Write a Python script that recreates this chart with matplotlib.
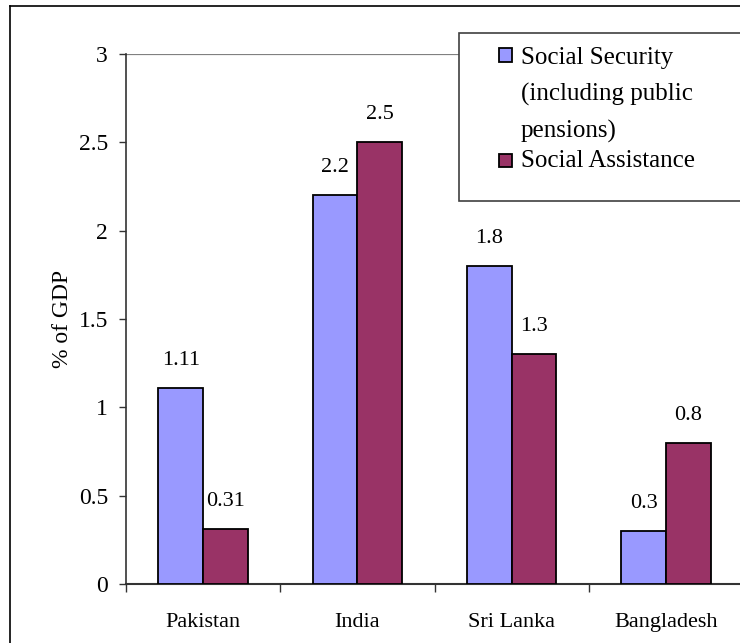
import matplotlib
matplotlib.use("Agg")
import matplotlib.pyplot as plt
import numpy as np
from matplotlib.patches import Rectangle
from matplotlib.lines import Line2D

countries = ["Pakistan", "India", "Sri Lanka", "Bangladesh"]
social_security = [1.11, 2.2, 1.8, 0.3]
social_assistance = [0.31, 2.5, 1.3, 0.8]
ss_labels = ["1.11", "2.2", "1.8", "0.3"]
sa_labels = ["0.31", "2.5", "1.3", "0.8"]
legend_labels = ["Social Security\n(including public\npensions)", "Social Assistance"]
yticks = [0, 0.5, 1, 1.5, 2, 2.5, 3]
ytick_labels = ["0", "0.5", "1", "1.5", "2", "2.5", "3"]

blue = "#9999FF"
plum = "#993366"

plt.rcParams["font.family"] = "serif"
plt.rcParams["font.serif"] = ["Liberation Serif", "DejaVu Serif"]

W, H = 740, 643
fig = plt.figure(figsize=(W / 100, H / 100), dpi=100)


def fx(x):
    return x / W


def fy(y):
    return 1 - y / H


# axes placed in pixel terms (left 126, y=0 at 584, y=3 at 54)
ax = fig.add_axes([fx(126), fy(584), 617 / W, 530 / H])

x = np.arange(len(countries))
bw = 0.29
b1 = ax.bar(x - bw / 2, social_security, bw, color=blue, edgecolor="black", linewidth=1.3, zorder=3)
b2 = ax.bar(x + bw / 2, social_assistance, bw, color=plum, edgecolor="black", linewidth=1.3, zorder=3)

for bars, labs in [(b1, ss_labels), (b2, sa_labels)]:
    for r, lab in zip(bars, labs):
        ax.annotate(lab, (r.get_x() + r.get_width() / 2, r.get_height()),
                    xytext=(0, 16.5), textcoords="offset points",
                    ha="center", va="baseline", fontsize=16)

ax.set_xlim(-0.5, 3.5)
ax.set_ylim(0, 3)
ax.axhline(3, color="#808080", lw=1.6, zorder=1)

ax.set_yticks(yticks)
ax.set_yticklabels(ytick_labels, fontsize=17)
ax.tick_params(axis="y", direction="out", length=5, width=1, color="#333333", pad=8)

ax.set_xticks(np.arange(-0.5, 4, 1))
ax.set_xticklabels([])
ax.tick_params(axis="x", which="major", direction="out", length=6, width=1, color="#333333")
ax.set_xticks(x, minor=True)
ax.set_xticklabels(countries, minor=True, fontsize=16)
ax.tick_params(axis="x", which="minor", length=0, pad=21)

for s in ["top", "right"]:
    ax.spines[s].set_visible(False)
ax.spines["left"].set_color("#333333")
ax.spines["bottom"].set_color("#333333")
ax.spines["left"].set_linewidth(1.2)
ax.spines["bottom"].set_linewidth(1.5)

fig.text(fx(62), fy(319), "% of GDP", fontsize=17, rotation=90, ha="center", va="center")

# outer frame (top and left edges visible)
fig.add_artist(Line2D([fx(10), fx(10)], [fy(6), 0], color="black", lw=1.2))
fig.add_artist(Line2D([fx(10), 1], [fy(6), fy(6)], color="black", lw=1.2))

# legend box
fig.add_artist(Rectangle((fx(459), fy(201)), (W - 459 + 10) / W, 168 / H,
                         transform=fig.transFigure, facecolor="white",
                         edgecolor="#404040", lw=1.2, zorder=5))
fig.add_artist(Rectangle((fx(499), fy(62)), 13 / W, 14 / H, transform=fig.transFigure,
                         facecolor=blue, edgecolor="black", lw=1.3, zorder=6))
fig.add_artist(Rectangle((fx(499), fy(167)), 13 / W, 13 / H, transform=fig.transFigure,
                         facecolor=plum, edgecolor="black", lw=1.3, zorder=6))
fig.text(fx(521), fy(95), legend_labels[0], fontsize=18, va="center", ha="left",
         linespacing=1.8, zorder=7)
fig.text(fx(521), fy(161), legend_labels[1], fontsize=18, va="center", ha="left", zorder=7)

fig.savefig("out.png", dpi=100)
